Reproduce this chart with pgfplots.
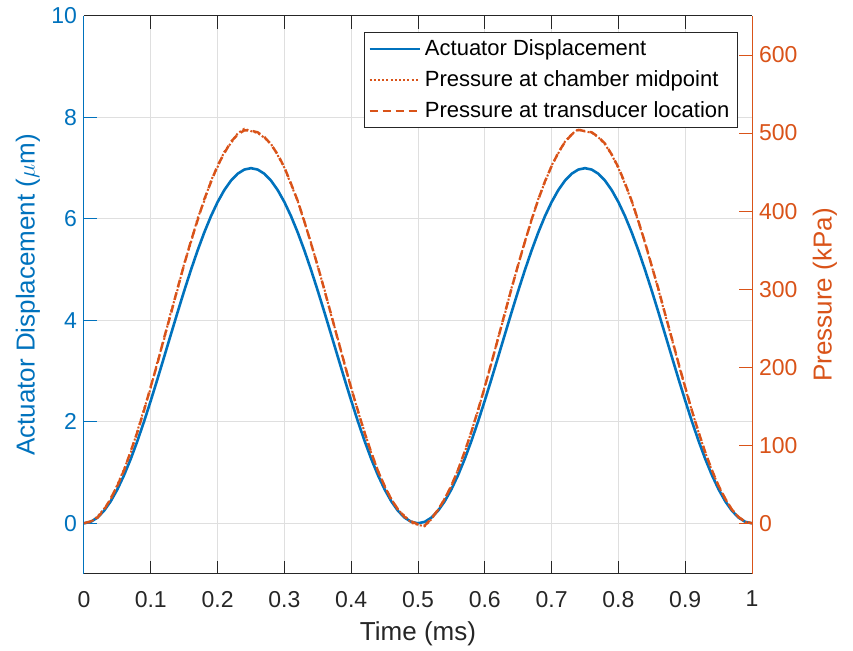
\documentclass[border=0pt]{standalone}
\usepackage{fontspec}
\setmainfont{Liberation Sans}
\usepackage{pgfplots}
\usepackage{pgfplotstable}
\pgfplotsset{compat=1.18}

\definecolor{mblue}{RGB}{0,114,189}
\definecolor{morange}{RGB}{217,83,25}
\definecolor{dgray}{RGB}{38,38,38}
\definecolor{gridc}{RGB}{223,223,223}

% t (ms), displacement (um), pressure midpoint (kPa), pressure transducer (kPa)
\pgfplotstableread{
t d p1 p2
0.00 0.0000 0.0 0.0
0.01 0.0276 1.5 2.5
0.02 0.1100 8.5 7.0
0.03 0.2458 18.5 17.0
0.04 0.4329 30.5 32.0
0.05 0.6684 49.5 48.0
0.06 0.9486 69.5 68.0
0.07 1.2690 90.5 92.5
0.08 1.6246 118.5 117.0
0.09 2.0098 146.5 145.0
0.10 2.4184 173.5 175.5
0.11 2.8442 207.0 205.0
0.12 3.2802 236.0 238.0
0.13 3.7198 270.5 268.0
0.14 4.1558 299.0 301.0
0.15 4.5816 333.0 331.5
0.16 4.9902 359.5 361.5
0.17 5.3754 390.5 388.0
0.18 5.7310 413.0 415.0
0.19 6.0514 439.0 437.0
0.20 6.3316 456.5 458.5
0.21 6.5671 476.0 474.0
0.22 6.7542 487.0 489.0
0.23 6.8900 499.5 498.0
0.24 6.9724 505.5 503.5
0.25 7.0000 502.5 503.0
0.26 6.9724 500.0 501.0
0.27 6.8900 494.0 495.0
0.28 6.7542 486.0 485.5
0.29 6.5671 471.5 472.5
0.30 6.3316 455.5 456.0
0.31 6.0514 434.0 435.0
0.32 5.7310 412.5 413.0
0.33 5.3754 385.5 386.5
0.34 4.9902 359.0 358.0
0.35 4.5816 328.5 329.5
0.36 4.1558 299.5 298.5
0.37 3.7198 266.5 267.5
0.38 3.2802 236.5 235.5
0.39 2.8442 203.5 204.5
0.40 2.4184 174.0 173.0
0.41 2.0098 143.5 144.5
0.42 1.6246 117.0 116.0
0.43 1.2690 90.0 91.0
0.44 0.9486 68.0 67.0
0.45 0.6684 47.0 48.0
0.46 0.4329 31.5 30.5
0.47 0.2458 17.0 18.0
0.48 0.1100 9.5 8.0
0.49 0.0276 0.5 2.5
0.50 0.0000 -2.0 -1.5
0.51 0.0276 -4.0 -3.0
0.52 0.1100 5.0 6.0
0.53 0.2458 17.0 17.5
0.54 0.4329 32.0 31.0
0.55 0.6684 47.5 48.5
0.56 0.9486 69.0 68.5
0.57 1.2690 91.0 92.0
0.58 1.6246 118.0 117.5
0.59 2.0098 144.5 145.5
0.60 2.4184 175.5 174.5
0.61 2.8442 205.0 206.0
0.62 3.2802 238.0 237.0
0.63 3.7198 268.0 269.5
0.64 4.1558 301.5 300.5
0.65 4.5816 330.5 331.5
0.66 4.9902 361.5 360.5
0.67 5.3754 388.0 389.0
0.68 5.7310 415.5 414.5
0.69 6.0514 437.0 438.0
0.70 6.3316 458.5 457.5
0.71 6.5671 474.0 475.0
0.72 6.7542 489.0 488.5
0.73 6.8900 498.5 498.0
0.74 6.9724 505.0 504.0
0.75 7.0000 502.0 502.5
0.76 6.9724 500.5 501.0
0.77 6.8900 494.5 495.0
0.78 6.7542 485.5 486.5
0.79 6.5671 472.0 472.5
0.80 6.3316 455.0 456.0
0.81 6.0514 434.5 435.5
0.82 5.7310 412.0 413.0
0.83 5.3754 386.0 387.0
0.84 4.9902 358.5 359.5
0.85 4.5816 329.0 329.5
0.86 4.1558 299.0 300.0
0.87 3.7198 267.0 268.0
0.88 3.2802 236.0 237.0
0.89 2.8442 204.0 205.0
0.90 2.4184 173.5 174.5
0.91 2.0098 144.0 144.5
0.92 1.6246 116.5 117.0
0.93 1.2690 90.5 91.0
0.94 0.9486 67.5 68.0
0.95 0.6684 47.5 48.0
0.96 0.4329 31.0 31.5
0.97 0.2458 17.5 17.5
0.98 0.1100 7.5 8.0
0.99 0.0276 1.5 2.0
1.00 0.0000 0.0 0.0
}\datatable

\pgfplotsset{
  commonax/.style={
    scale only axis,
    width=334pt, height=279pt,
    at={(0,0)}, anchor=south west,
    xmin=0, xmax=1,
    tick align=inside,
    major tick length=6.5pt,
    tick label style={font=\fontsize{11.5}{13}\selectfont},
    label style={font=\fontsize{13}{15}\selectfont},
    /pgf/number format/assume math mode=true,
  },
}

\begin{document}
\begin{tikzpicture}
\begin{axis}[
  commonax,
  ymin=-1, ymax=10,
  xtick={0,0.1,...,1},
  xticklabels={0,0.1,0.2,0.3,0.4,0.5,0.6,0.7,0.8,0.9,1},
  ytick={0,2,4,6,8,10},
  xtick pos=both, ytick pos=left,
  separate axis lines,
  x axis line style={draw=dgray, line width=0.5pt},
  y axis line style={draw=mblue, line width=0.5pt},
  xtick style={draw=dgray, line width=0.5pt},
  ytick style={draw=mblue, line width=0.5pt},
  xticklabel style={color=dgray, yshift=-5pt},
  yticklabel style={color=mblue},
  grid=major,
  grid style={draw=gridc, line width=0.5pt},
  xlabel={Time (ms)},
  ylabel={Actuator Displacement ($\mu$m)},
  xlabel style={color=dgray, at={(axis description cs:0.5,-0.1075)}, anchor=center},
  ylabel style={color=mblue, at={(axis description cs:-0.0838,0.5)}, anchor=center, rotate=0},
]
\addplot[mblue, line width=1.3pt] table[x=t, y=d] {\datatable};
\end{axis}

\begin{axis}[
  commonax,
  ymin=-65, ymax=650,
  ytick={0,100,...,600},
  axis x line=none,
  axis y line*=right,
  y axis line style={draw=morange, line width=0.5pt, -},
  ytick style={draw=morange, line width=0.5pt},
  yticklabel style={color=morange},
  ylabel={Pressure (kPa)},
  ylabel style={color=morange, at={(axis description cs:1.109,0.5)}, anchor=center, rotate=0},
  legend style={
    at={(axis description cs:0.979,0.971)}, anchor=north east,
    draw=dgray, line width=0.5pt, fill=white,
    font=\fontsize{11}{12.5}\selectfont, text=black,
    cells={anchor=west},
    inner xsep=2pt, inner ysep=1.5pt, row sep=2pt,
  },
  legend image code/.code={\draw[#1] (0pt,0pt) -- (25pt,0pt);},
]
\addlegendimage{mblue, line width=1.3pt}
\addlegendentry{Actuator Displacement}
\addplot[morange, line width=1pt, dash pattern=on 1pt off 1.1pt] table[x=t, y=p1] {\datatable};
\addlegendentry{Pressure at chamber midpoint}
\addplot[morange, line width=1.2pt, dash pattern=on 4pt off 2.5pt] table[x=t, y=p2] {\datatable};
\addlegendentry{Pressure at transducer location}
\end{axis}
\pgfresetboundingbox
\path (-42pt,-38.5pt) rectangle (384.5pt,287pt);
\end{tikzpicture}
\end{document}
